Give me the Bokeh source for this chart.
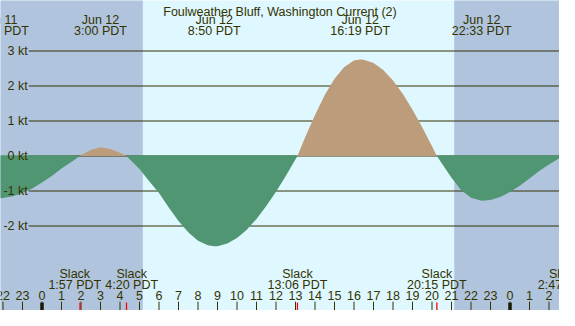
import numpy as np
from bokeh.plotting import figure
from bokeh.models import ColumnDataSource, LabelSet, Label, Range1d
from bokeh.embed import file_html
from bokeh.resources import INLINE
from bokeh.core.properties import value

# ---------------- data (hours after midnight Jun 12, PDT; knots, + = flood) ----------------
curve_hours = [-2.5, -2.2, -2.0, -1.5, -1.0, -0.5, 0.0, 0.5, 1.0, 1.5, 1.95,
               2.0, 2.5, 3.0, 3.5, 4.0, 4.333, 4.5, 5.0, 5.5, 6.0, 6.5, 7.0, 7.5,
               8.0, 8.5, 8.833, 9.0, 9.5, 10.0, 10.5, 11.0, 11.5, 12.0, 12.5, 13.0,
               13.1, 13.5, 14.0, 14.5, 15.0, 15.5, 16.0, 16.317, 16.5, 17.0, 17.5,
               18.0, 18.5, 19.0, 19.5, 20.0, 20.25, 20.5, 21.0, 21.5, 22.0, 22.55,
               23.0, 23.5, 24.0, 24.5, 25.0, 25.5, 26.0, 26.5, 26.783, 27.0]
curve_knots = [-1.20, -1.21, -1.20, -1.15, -1.06, -0.93, -0.76, -0.57, -0.36, -0.17, 0.0,
               0.02, 0.17, 0.25, 0.20, 0.09, 0.0, -0.09, -0.37, -0.72, -1.06, -1.47, -1.86, -2.18,
               -2.42, -2.55, -2.58, -2.575, -2.50, -2.34, -2.11, -1.80, -1.43, -1.02, -0.57, -0.09,
               0.0, 0.54, 1.17, 1.74, 2.21, 2.54, 2.73, 2.76, 2.75, 2.66, 2.46,
               2.16, 1.78, 1.32, 0.82, 0.28, 0.0, -0.21, -0.62, -0.98, -1.19, -1.28,
               -1.26, -1.17, -1.03, -0.85, -0.64, -0.43, -0.24, -0.07, 0.0, 0.05]

slack_hours = [1.95, 4.333, 13.1, 20.25, 26.783]
slack_times = ["1:57 PDT", "4:20 PDT", "13:06 PDT", "20:15 PDT", "2:47 PDT"]

peak_hours = [-2.2, 3.0, 8.833, 16.317, 22.55]
peak_dates = ["Jun 11", "Jun 12", "Jun 12", "Jun 12", "Jun 12"]
peak_times = ["21:48 PDT", "3:00 PDT", "8:50 PDT", "16:19 PDT", "22:33 PDT"]

sunrise_hour = 5.17
sunset_hour = 21.14

hour_ticks = list(range(-2, 27))
hour_labels = [str(h % 24) for h in hour_ticks]

kt_ticks = [3, 2, 1, 0, -1, -2]
kt_labels = ["3 kt", "2 kt", "1 kt", "0 kt", "-1 kt", "-2 kt"]

title_text = "Foulweather Bluff, Washington Current (2)"

# ---------------- style / layout ----------------
DAY = "#dff7ff"
NIGHT = "#b0c4de"
GREEN = "#519672"
BROWN = "#bd9c7b"
INK = "#333300"
FONT = value("Liberation Sans")
FS = "12.5px"

W, H = 559, 310
REF_W, REF_H = 575, 326
SX, SY = W / REF_W, H / REF_H
px_per_h = 19.5
px_per_kt = 35.0
X0 = -41.5 / px_per_h
X1 = X0 + W / px_per_h
Y1 = 155.5 / px_per_kt
Y0 = Y1 - H / px_per_kt


def sy(yref):
    return (REF_H - yref) * SY


p = figure(width=W, height=H, x_range=Range1d(X0, X1), y_range=Range1d(Y0, Y1),
           output_backend="svg", toolbar_location=None,
           x_axis_type=None, y_axis_type=None, min_border=0,
           background_fill_color=DAY, border_fill_color=DAY, outline_line_color=None)

# night shading
p.quad(left=[X0 - 1, sunset_hour], right=[sunrise_hour, X1 + 1],
       bottom=Y0 - 1, top=Y1 + 1, fill_color=NIGHT, line_color=None)

# horizontal kt lines
gx0 = X0 + 29 * SX / px_per_h
p.segment(x0=[gx0] * len(kt_ticks), y0=kt_ticks, x1=[X1 + 1] * len(kt_ticks), y1=kt_ticks,
          line_color=INK, line_width=1)

# current fills
hrs = np.array(curve_hours)
kn = np.array(curve_knots)
pad = 0.8 / px_per_kt
p.varea(x=hrs, y1=np.zeros_like(kn), y2=np.maximum(kn, 0), fill_color=BROWN)
p.varea(x=hrs, y1=np.where(kn < 0, pad, 0.0), y2=np.minimum(kn, 0), fill_color=GREEN)

# hour ticks
tl = 9.3 * SY / px_per_kt
p.segment(x0=hour_ticks, y0=[Y0] * len(hour_ticks), x1=hour_ticks,
          y1=[Y0 + tl] * len(hour_ticks), line_color=INK, line_width=1)
mid = [h for h in hour_ticks if h % 24 == 0]
tl2 = 8.3 * SY / px_per_kt
p.segment(x0=mid, y0=[Y0] * len(mid), x1=mid, y1=[Y0 + tl2] * len(mid),
          line_color="#1a1a00", line_width=3.5)
p.segment(x0=slack_hours, y0=[Y0] * len(slack_hours), x1=slack_hours,
          y1=[Y0 + tl2] * len(slack_hours), line_color="#ff0000", line_width=1.3)


def labels(xs, texts, y, align="center", baseline="alphabetic"):
    src = ColumnDataSource(dict(x=xs, t=texts))
    ls = LabelSet(x="x", y=y, text="t", source=src, y_units="screen",
                  text_align=align, text_baseline=baseline, text_font=FONT,
                  text_font_size=FS, text_color=INK)
    p.add_layout(ls)


# hour labels
labels(hour_ticks, hour_labels, sy(315))

# slack labels (pushed apart to avoid overlap)
min_sep = 58.5 * SX
pos = [(h - X0) * px_per_h for h in slack_hours]
adj = list(pos)
for i in range(len(adj) - 1):
    gap = adj[i + 1] - adj[i]
    if gap < min_sep:
        d = (min_sep - gap) / 2
        adj[i] -= d
        adj[i + 1] += d
slack_x = [X0 + a / px_per_h for a in adj]
labels(slack_x, ["Slack"] * len(slack_x), sy(291.7))
labels(slack_x, slack_times, sy(303.3))

# peak labels
labels(peak_hours, peak_dates, sy(25.2))
labels(peak_hours, peak_times, sy(36.2))

# kt labels
src_kt = ColumnDataSource(dict(y=kt_ticks, t=kt_labels))
p.add_layout(LabelSet(x=28 * SX, y="y", text="t", source=src_kt, x_units="screen",
                      text_align="right", text_baseline="middle", text_font=FONT,
                      text_font_size=FS, text_color=INK))

# title
p.add_layout(Label(x=W / 2, y=sy(11.7), x_units="screen", y_units="screen", text=title_text,
                   text_align="center", text_baseline="alphabetic", text_font="Liberation Sans",
                   text_font_size=FS, text_color=INK))

open("out.html", "w").write(file_html(p, INLINE))
